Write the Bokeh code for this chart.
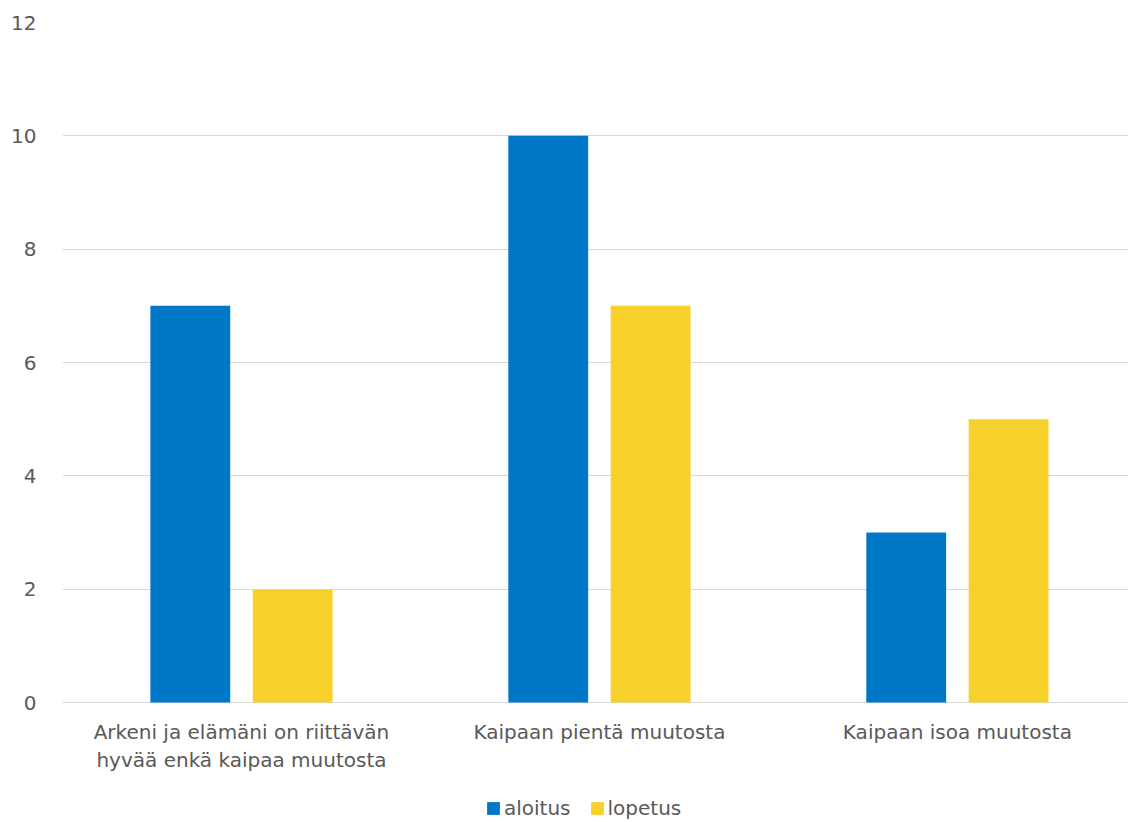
from bokeh.plotting import figure
from bokeh.models import ColumnDataSource, FixedTicker, Legend, LegendItem, Range1d
from bokeh.core.properties import value
from bokeh.transform import dodge
from bokeh.embed import file_html
from bokeh.resources import INLINE

categories = ["Arkeni ja elämäni on riittävän\nhyvää enkä kaipaa muutosta",
              "Kaipaan pientä muutosta",
              "Kaipaan isoa muutosta"]
aloitus = [7, 10, 3]
lopetus = [2, 7, 5]
series_names = ["aloitus", "lopetus"]
colors = ["#0078C8", "#F8D02B"]
y_ticks = [0, 2, 4, 6, 8, 10, 12]

FONT = "DejaVu Sans"
TXT = "#595959"

xs = list(range(len(categories)))
src = ColumnDataSource(dict(x=xs, a=aloitus, l=lopetus, zero=[0] * len(xs), cat=categories))

# frame spans the full height; the region below 0 holds category labels and legend
p = figure(width=1128, height=822, output_backend="svg", toolbar_location=None,
           x_range=Range1d(-0.5, 2.478), y_range=Range1d(-12 * 120 / 680, 12),
           min_border_left=62, min_border_right=0, min_border_top=22, min_border_bottom=0)
p.outline_line_color = None
p.background_fill_color = "white"
p.xaxis.visible = False

r1 = p.vbar(x=dodge("x", -0.143), top="a", width=0.223, source=src, fill_color=colors[0], line_color=None)
r2 = p.vbar(x=dodge("x", 0.143), top="l", width=0.223, source=src, fill_color=colors[1], line_color=None)

p.text(x="x", y="zero", text="cat", source=src, text_font=value(FONT), text_font_size="20px",
       text_color=TXT, text_align="center", text_baseline="top", y_offset=17, text_line_height=1.2)

p.yaxis.ticker = FixedTicker(ticks=y_ticks)
ax = p.yaxis[0]
ax.axis_line_color = None
ax.major_tick_line_color = None
ax.minor_tick_line_color = None
ax.major_label_text_font = FONT
ax.major_label_text_color = TXT
ax.major_label_text_font_size = "20px"
ax.major_label_standoff = 20
p.xgrid.grid_line_color = None
p.ygrid.grid_line_color = "#D9D9D9"
p.ygrid.grid_line_width = 1

legend = Legend(items=[LegendItem(label=series_names[0], renderers=[r1]),
                       LegendItem(label=series_names[1], renderers=[r2])],
                orientation="horizontal", location=(423, 2),
                label_text_font=FONT, label_text_color=TXT, label_text_font_size="20px",
                glyph_width=16, glyph_height=16, spacing=18, label_standoff=3,
                background_fill_alpha=0, border_line_color=None, padding=0, margin=0)
p.add_layout(legend, "center")

open("out.html", "w").write(file_html(p, INLINE))
